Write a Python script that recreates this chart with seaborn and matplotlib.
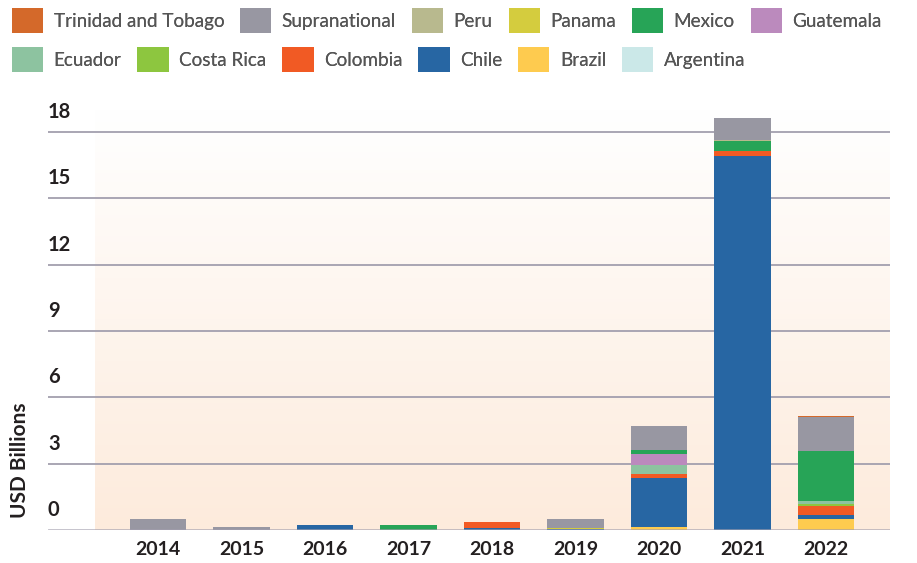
import numpy as np
import pandas as pd
import matplotlib
matplotlib.use("Agg")
import matplotlib.pyplot as plt
import matplotlib.transforms as mtransforms
from matplotlib.patches import Patch
import seaborn as sns

# ---------------- data ----------------
years = ["2014", "2015", "2016", "2017", "2018", "2019", "2020", "2021", "2022"]
argentina = [0, 0, 0, 0, 0, 0, 0, 0, 0]
brazil = [0, 0, 0, 0, 0, 0, 0.12, 0, 0.52]
chile = [0, 0, 0.23, 0, 0.08, 0.05, 2.22, 16.9, 0.14]
colombia = [0, 0, 0, 0, 0.27, 0, 0.18, 0.23, 0.41]
costa_rica = [0, 0, 0, 0, 0, 0, 0, 0, 0.09]
ecuador = [0, 0, 0, 0, 0, 0, 0.41, 0, 0.14]
guatemala = [0, 0, 0, 0, 0, 0, 0.50, 0, 0]
mexico = [0, 0, 0, 0.23, 0, 0, 0.18, 0.45, 2.26]
panama = [0, 0, 0, 0, 0, 0.05, 0, 0, 0]
peru = [0, 0, 0, 0, 0, 0, 0, 0.05, 0]
supranational = [0.50, 0.14, 0, 0, 0, 0.41, 1.09, 1.0, 1.54]
trinidad = [0, 0, 0, 0, 0, 0, 0, 0, 0.05]

# stacking order, bottom to top
countries = ["Argentina", "Brazil", "Chile", "Colombia", "Costa Rica", "Ecuador",
             "Guatemala", "Mexico", "Panama", "Peru", "Supranational", "Trinidad and Tobago"]
series = [argentina, brazil, chile, colombia, costa_rica, ecuador,
          guatemala, mexico, panama, peru, supranational, trinidad]
colors = {
    "Trinidad and Tobago": "#d4692a",
    "Supranational": "#9897a2",
    "Peru": "#b8b98e",
    "Panama": "#d4cc3e",
    "Mexico": "#27a457",
    "Guatemala": "#bb8abd",
    "Ecuador": "#8dc3a0",
    "Costa Rica": "#8dc63f",
    "Colombia": "#f15a24",
    "Chile": "#2766a3",
    "Brazil": "#fecb4f",
    "Argentina": "#cbe8e8",
}
legend_row1 = ["Trinidad and Tobago", "Supranational", "Peru", "Panama", "Mexico", "Guatemala"]
legend_row2 = ["Ecuador", "Costa Rica", "Colombia", "Chile", "Brazil", "Argentina"]
yticks = [0, 3, 6, 9, 12, 15, 18]

df = pd.DataFrame([
    {"year": y, "country": c, "value": v}
    for c, vals in zip(countries, series) for y, v in zip(years, vals)
])

# ---------------- figure ----------------
sns.set_theme(style="white")
plt.rcParams["font.family"] = ["Lato", "DejaVu Sans"]

W, H = 917, 563
fig = plt.figure(figsize=(W / 100, H / 100), dpi=100)
fig.patch.set_facecolor("white")

px_unit = (530 - 132) / 18.0
ytop = 19.0
x_left_px, x_right_px = 48, 890
ax_bottom_px = 530
ax_top_px = 530 - ytop * px_unit
ax = fig.add_axes([x_left_px / W, (H - ax_bottom_px) / H,
                   (x_right_px - x_left_px) / W, (ax_bottom_px - ax_top_px) / H])

step = 83.5
xmin = -(158 - x_left_px) / step
xmax = (x_right_px - 158) / step

# background gradient (white at top -> peach at bottom)
n = 256
t = np.linspace(0, 1, n)[:, None]
top_c = np.array([1.0, 1.0, 1.0])
bot_c = np.array([253, 235, 220]) / 255.0
grad = (top_c * (1 - t) + bot_c * t)[:, None, :].repeat(2, axis=1)
bg_left = -(158 - 95) / step
ax.imshow(grad, extent=[bg_left, xmax, 0, ytop], aspect="auto", zorder=0,
          interpolation="bicubic")

# gridlines (behind bars)
for yv in yticks[1:]:
    ax.axhline(yv, color="#a39fae", lw=1.3, zorder=1)

bottoms = np.zeros(len(years))
for c in countries:
    sub = df[df["country"] == c]
    sns.barplot(data=sub, x="year", y="value", order=years, color=colors[c],
                bottom=bottoms.copy(), width=0.68, errorbar=None,
                saturation=1, linewidth=0, ax=ax, zorder=2)
    bottoms += sub.set_index("year").loc[years, "value"].to_numpy()

# baseline on top of bars
ax.axhline(0, color="#a39fae", lw=1.8, alpha=0.8, zorder=5)

ax.set_xlim(xmin, xmax)
ax.set_ylim(0, ytop)
for s in ax.spines.values():
    s.set_visible(False)
ax.set_yticks([])
ax.set_xlabel("")
ax.set_ylabel("")
ax.tick_params(axis="x", length=0, pad=8)
for lab in ax.get_xticklabels():
    lab.set_fontweight("bold")
    lab.set_fontsize(14)
    lab.set_color("#231f20")

# y tick labels above gridlines, left-aligned
trans = mtransforms.blended_transform_factory(ax.transAxes, ax.transData)
off = mtransforms.ScaledTranslation(0, 20 / 100, fig.dpi_scale_trans)
for yv in yticks:
    ax.text(0, yv, str(yv), transform=trans + off, ha="left", va="center",
            fontsize=14.5, fontweight="bold", color="#231f20")

fig.text(20 / W, 1 - 460 / H, "USD Billions", rotation=90, ha="center", va="center",
         fontsize=15, fontweight="bold", color="#231f20")

# legend (two flowing rows)
for row, ytop_px in ((legend_row1, 8), (legend_row2, 47)):
    handles = [Patch(facecolor=colors[c], edgecolor="none", label=c) for c in row]
    leg = fig.legend(handles=handles, loc="upper left",
                     bbox_to_anchor=(12 / W, 1 - ytop_px / H), ncol=6,
                     frameon=False, fontsize=13.6, handlelength=1.65, handleheight=1.65,
                     handletextpad=0.55, columnspacing=0.85, borderpad=0,
                     borderaxespad=0)
    for txt in leg.get_texts():
        txt.set_color("#555555")
    fig.add_artist(leg)

fig.savefig("out.png", dpi=100, facecolor="white")
